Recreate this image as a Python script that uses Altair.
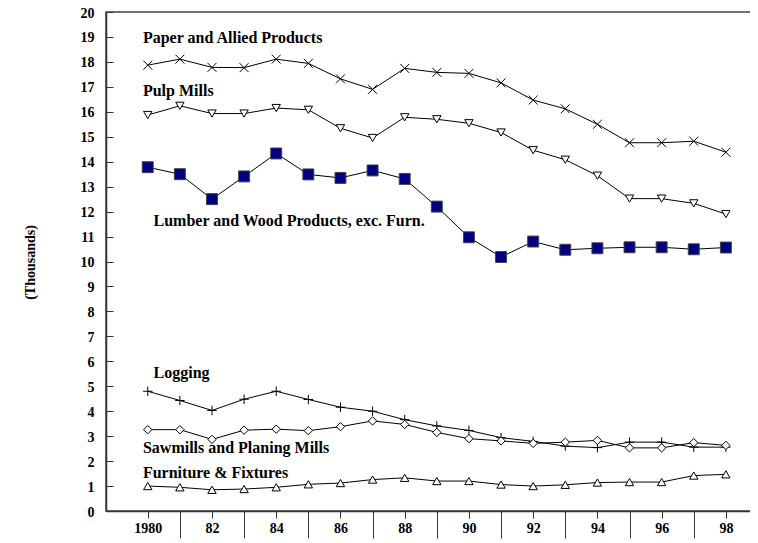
import altair as alt
import pandas as pd

years = list(range(1980, 1999))

series_names = [
    "Paper and Allied Products",
    "Pulp Mills",
    "Lumber and Wood Products, exc. Furn.",
    "Logging",
    "Sawmills and Planing Mills",
    "Furniture & Fixtures",
]

paper = [17.87, 18.11, 17.78, 17.77, 18.11, 17.94, 17.32, 16.90, 17.74, 17.58, 17.54, 17.16, 16.47, 16.12, 15.50, 14.76, 14.76, 14.82, 14.38]
pulp = [15.87, 16.24, 15.93, 15.93, 16.15, 16.08, 15.34, 14.95, 15.78, 15.70, 15.54, 15.17, 14.46, 14.08, 13.44, 12.52, 12.52, 12.33, 11.90]
lumber = [13.78, 13.50, 12.50, 13.41, 14.33, 13.49, 13.35, 13.65, 13.31, 12.20, 10.97, 10.18, 10.80, 10.47, 10.53, 10.57, 10.57, 10.49, 10.56]
logging = [4.80, 4.43, 4.03, 4.48, 4.80, 4.47, 4.16, 4.00, 3.66, 3.41, 3.23, 2.94, 2.79, 2.60, 2.54, 2.76, 2.76, 2.56, 2.56]
sawmills = [3.26, 3.26, 2.87, 3.24, 3.28, 3.22, 3.38, 3.61, 3.47, 3.15, 2.90, 2.81, 2.71, 2.76, 2.83, 2.53, 2.53, 2.74, 2.63]
furniture = [1.00, 0.95, 0.85, 0.88, 0.95, 1.07, 1.12, 1.26, 1.33, 1.20, 1.20, 1.06, 1.00, 1.05, 1.14, 1.16, 1.16, 1.42, 1.47]

y_ticks = list(range(0, 21))

# annotation labels (data coordinates)
label_x = [1979.85, 1979.85, 1980.18, 1980.18, 1979.85, 1979.85]
label_y = [18.97, 16.85, 11.64, 5.55, 2.52, 1.52]

# marker styles
shapes = [
    "M-1,-1L1,1M1,-1L-1,1",
    "triangle-down",
    "square",
    "M-1,0L1,0M0,-1L0,1",
    "diamond",
    "triangle-up",
]
fills = ["transparent", "white", "#000080", "transparent", "white", "white"]
strokes = ["black", "black", "#444444", "black", "black", "black"]
sizes = [80, 70, 120, 90, 70, 70]

values = [paper, pulp, lumber, logging, sawmills, furniture]
rows = []
for name, vals in zip(series_names, values):
    for yr, v in zip(years, vals):
        rows.append({"series": name, "year": yr, "value": v})
df = pd.DataFrame(rows)
labels_df = pd.DataFrame({"text": series_names, "year": label_x, "value": label_y})

FONT = "Liberation Serif"

x_scale = alt.Scale(domain=[1978.7, 1999.0], nice=False, zero=False)
y_scale = alt.Scale(domain=[0, 20], nice=False)

x_axis = alt.Axis(
    values=years,
    title=None,
    grid=False,
    labelExpr="datum.value == 1980 ? '1980' : substring(toString(datum.value), 2, 4)",
    labelOverlap=False,
    labelFlush=False,
    labelFont=FONT,
    labelFontSize=14,
    labelFontWeight="bold",
    labelColor="black",
    tickSize={"condition": {"test": "datum.value % 2 == 1", "value": 27}, "value": 7},
    labelPadding={"condition": {"test": "datum.value % 2 == 1", "value": 17}, "value": 3},
    labelBaseline="top",
)

y_axis = alt.Axis(
    values=y_ticks,
    title="(Thousands)",
    grid=False,
    labelOverlap=False,
    labelFont=FONT,
    labelFontSize=14,
    labelFontWeight="bold",
    labelColor="black",
    labelOffset=1,
    tickSize={"expr": "-7"},
    labelPadding=19,
    titleAngle=-90,
    titleX=-76,
    titleY=250,
    titleAlign="center",
    titleBaseline="middle",
    titleFont=FONT,
    titleFontSize=14,
    titleFontWeight="bold",
    titleColor="black",
)

X = alt.X("year:Q", scale=x_scale, axis=x_axis)
Y = alt.Y("value:Q", scale=y_scale, axis=y_axis)

base = alt.Chart(df)

lines = base.mark_line(color="black", strokeWidth=1).encode(
    x=X, y=Y, detail="series:N",
)

layers = [lines]
for name, shp, fl, st, sz in zip(series_names, shapes, fills, strokes, sizes):
    layers.append(
        base.transform_filter(alt.datum.series == name)
        .mark_point(shape=shp, fill=fl, stroke=st, strokeWidth=1, size=sz, opacity=1, filled=False, fillOpacity=1)
        .encode(x=X, y=Y)
    )

texts = alt.Chart(labels_df).mark_text(
    font=FONT, fontSize=16, fontWeight="bold", align="left", baseline="middle", color="black"
).encode(x=X, y=Y, text="text:N")
layers.append(texts)

chart = alt.layer(*layers).properties(
    width=652,
    height=499,
    autosize=alt.AutoSizeParams(type="none"),
    padding={"left": 98, "top": 4, "right": -8, "bottom": 32},
).configure_view(
    stroke="#444444", strokeWidth=1.5
).configure_axis(
    domainColor="#333333",
    domainWidth=1.5,
    tickColor="#333333",
    tickWidth=1,
)

chart.save("out.html", embed_options={"renderer": "svg", "actions": False})
